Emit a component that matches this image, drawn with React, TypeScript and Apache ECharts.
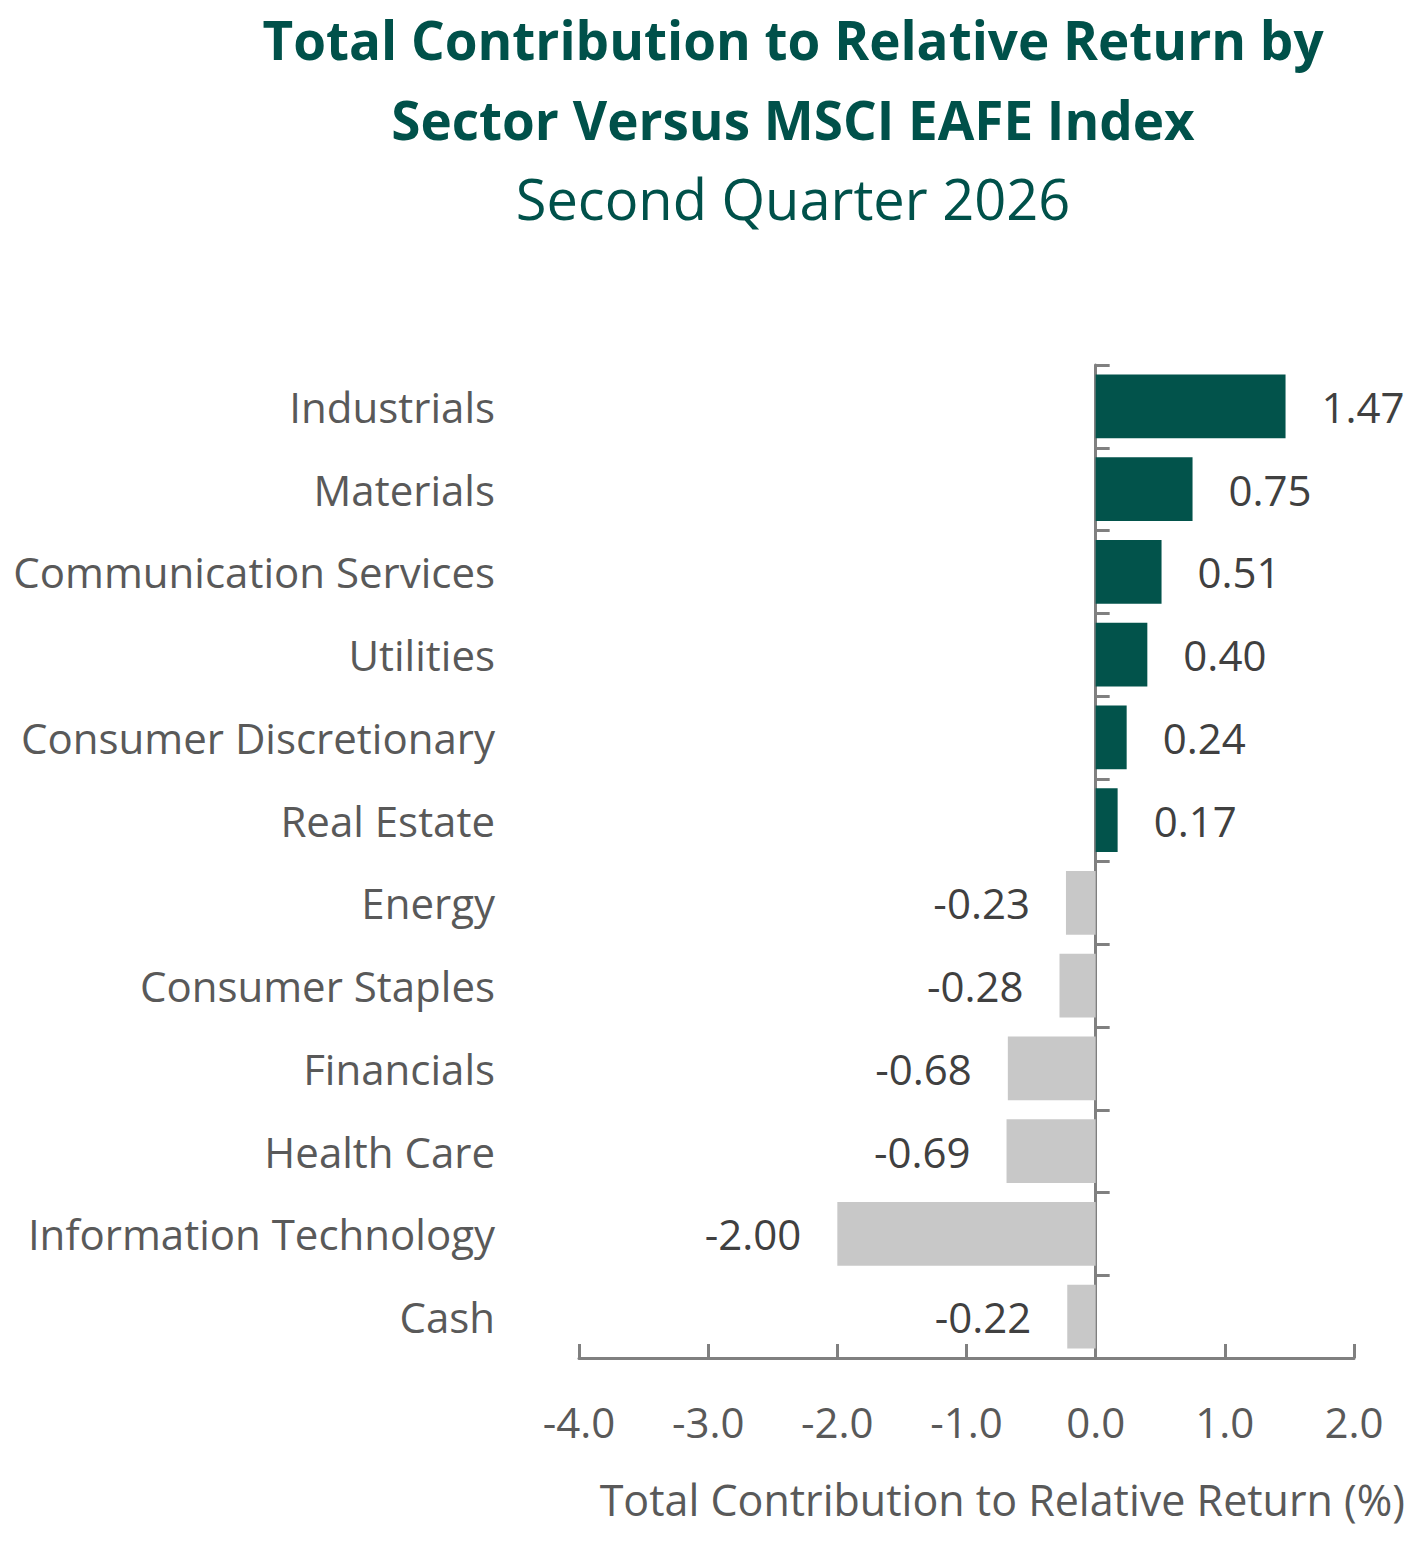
import React, { useEffect, useRef } from "react";
import * as echarts from "echarts";

const sectors = [
  "Industrials",
  "Materials",
  "Communication Services",
  "Utilities",
  "Consumer Discretionary",
  "Real Estate",
  "Energy",
  "Consumer Staples",
  "Financials",
  "Health Care",
  "Information Technology",
  "Cash",
];
const contributions = [1.47, 0.75, 0.51, 0.4, 0.24, 0.17, -0.23, -0.28, -0.68, -0.69, -2.0, -0.22];
const titleLines = ["Total Contribution to Relative Return by", "Sector Versus MSCI EAFE Index"];
const subtitle = "Second Quarter 2026";
const axisName = "Total Contribution to Relative Return (%)";

const TEAL = "#02534B";
const GRAY_BAR = "#C8C8C8";
const AXIS_GRAY = "#808080";
const FONT = "'Open Sans', 'Noto Sans', sans-serif";

const App: React.FC = () => {
  const chartRef = useRef<HTMLDivElement>(null);

  useEffect(() => {
    if (!chartRef.current) return;
    // chart fills the whole page, so drop the default body margin
    document.body.style.margin = "0";
    const chart = echarts.init(chartRef.current, undefined, { renderer: "svg" });

    chart.setOption({
      animation: false,
      textStyle: { fontFamily: FONT },
      grid: { left: 579, right: 74, top: 365, bottom: 186, containLabel: false },
      xAxis: {
        type: "value",
        min: -4,
        max: 2,
        interval: 1,
        axisLine: { show: true, lineStyle: { color: AXIS_GRAY, width: 3 } },
        axisTick: { show: true, inside: true, length: 14, lineStyle: { color: AXIS_GRAY, width: 3 } },
        splitLine: { show: false },
        axisLabel: {
          margin: 42,
          fontSize: 42,
          color: "#595959",
          fontFamily: FONT,
          formatter: (v: number) => v.toFixed(1),
        },
      },
      yAxis: [
        {
          type: "category",
          data: sectors,
          inverse: true,
          position: "left",
          axisLine: { show: false, onZero: false },
          axisTick: { show: false },
          axisLabel: { margin: 84, fontSize: 42, color: "#595959", fontFamily: FONT },
        },
        {
          type: "category",
          data: sectors,
          inverse: true,
          position: "left",
          axisLine: { show: true, onZero: true, lineStyle: { color: AXIS_GRAY, width: 3 } },
          axisTick: { show: true, inside: true, length: 14, lineStyle: { color: AXIS_GRAY, width: 3 } },
          axisLabel: { show: false },
        },
      ],
      series: [
        {
          type: "bar",
          yAxisIndex: 0,
          barCategoryGap: "23%",
          data: contributions.map((v) => ({
            value: v,
            itemStyle: { color: v >= 0 ? TEAL : GRAY_BAR },
            label: { position: v >= 0 ? "right" : "left" },
          })),
          label: {
            show: true,
            distance: 36,
            fontSize: 42,
            color: "#404040",
            fontFamily: FONT,
            formatter: (p: any) => Number(p.value).toFixed(2),
          },
        },
      ],
      graphic: [
        {
          type: "text",
          x: 793,
          y: 39,
          style: {
            text: titleLines[0],
            fill: "#00514A",
            font: `bold 53px ${FONT}`,
            align: "center",
            verticalAlign: "middle",
          },
        },
        {
          type: "text",
          x: 793,
          y: 119,
          style: {
            text: titleLines[1],
            fill: "#00514A",
            font: `bold 53px ${FONT}`,
            align: "center",
            verticalAlign: "middle",
          },
        },
        {
          type: "text",
          x: 793,
          y: 198,
          style: {
            text: subtitle,
            fill: "#00514A",
            font: `56px ${FONT}`,
            align: "center",
            verticalAlign: "middle",
          },
        },
        {
          type: "text",
          x: 1405,
          y: 1499,
          style: {
            text: axisName,
            fill: "#595959",
            font: `43px ${FONT}`,
            align: "right",
            verticalAlign: "middle",
          },
        },
      ],
    });

    return () => {
      chart.dispose();
    };
  }, []);

  return <div ref={chartRef} style={{ width: "1428px", height: "1544px" }} />;
};

export default App;
